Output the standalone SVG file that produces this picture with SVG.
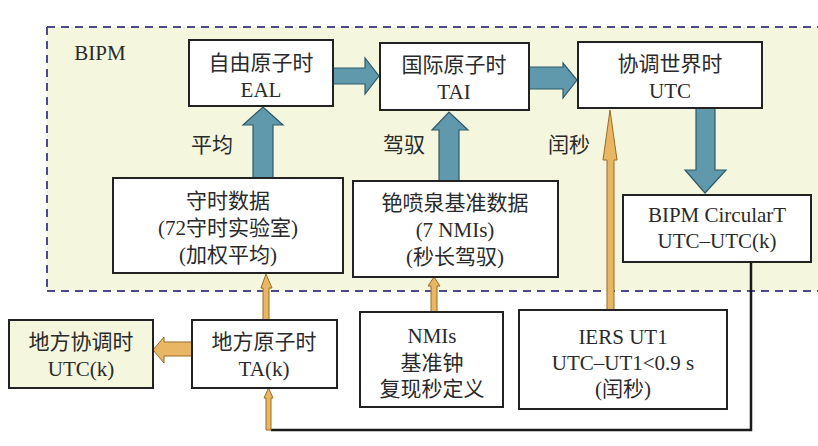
<svg xmlns="http://www.w3.org/2000/svg" width="818" height="446" viewBox="0 0 818 446">
<style>
.box{fill:#ffffff;stroke:#222222;stroke-width:2}
.t{font-family:"Liberation Serif","Noto Sans CJK SC",serif;font-size:21px;fill:#2a2a2a;text-anchor:middle;dominant-baseline:central}
.blue{fill:#5f99ab;stroke:#2e5a68;stroke-width:1.2}
.org{fill:#e9b764;stroke:#9a6a25;stroke-width:1}
.line{fill:none;stroke:#1a1a1a;stroke-width:2.5}
</style>
<rect x="0" y="0" width="818" height="446" fill="#ffffff"/>
<g id="bipm">
<rect x="47" y="27" width="775" height="264" fill="#f4f6de"/>
<path d="M47 27 H818 M47 27 V291 M47 291 H818" fill="none" stroke="#4b4b8c" stroke-width="2" stroke-dasharray="8,6"/>
<text class="t" x="100" y="53">BIPM</text>
</g>
<g id="connectors">
<polygon class="blue" points="333,68 365,68 365,58 379,76 365,94 365,84 333,84"/>
<polygon class="blue" points="529,67 563,67 563,63 577,80 563,98 563,89 529,89"/>
<polygon class="blue" points="253,178 253,125 243,125 263,107 283,125 273,125 273,178"/>
<polygon class="blue" points="439,181 439,130 432,130 449,112 468,130 459,130 459,181"/>
<polygon class="blue" points="696,108 696,170 685,170 705,193 726,170 715,170 715,108"/>
<polygon class="org" points="607,310 607,160 603,160 610,110 617,160 614,160 614,310"/>
<polygon class="org" points="263,320 263,288 261,288 266,274 272,288 269,288 269,320"/>
<polygon class="org" points="431,312 431,286 428,286 434,277 440,286 437,286 437,312"/>
<polyline class="line" points="751,262 751,430 271,430"/>
<polygon class="org" points="266,430 266,398 264,398 268.5,388 273,398 271,398 271,430"/>
<polygon class="org" points="192,342 164,342 164,337 153,350 164,363 164,356 192,356"/>
<text class="t" x="212" y="145">平均</text>
<text class="t" x="404" y="145">驾驭</text>
<text class="t" x="569" y="145">闰秒</text>
</g>
<g id="eal">
<rect class="box" x="189" y="40" width="144" height="66"/>
<text class="t" x="261" y="63">自由原子时</text>
<text class="t" x="261" y="90">EAL</text>
</g>
<g id="tai">
<rect class="box" x="380" y="43" width="149" height="67"/>
<text class="t" x="454" y="65">国际原子时</text>
<text class="t" x="454" y="92">TAI</text>
</g>
<g id="utc">
<rect class="box" x="578" y="42" width="184" height="66"/>
<text class="t" x="670" y="64">协调世界时</text>
<text class="t" x="670" y="91">UTC</text>
</g>
<g id="keeping">
<rect class="box" x="113" y="178" width="230" height="95"/>
<text class="t" x="228" y="201">守时数据</text>
<text class="t" x="228" y="228">(72守时实验室)</text>
<text class="t" x="228" y="255">(加权平均)</text>
</g>
<g id="fountain">
<rect class="box" x="353" y="181" width="205" height="96"/>
<text class="t" x="455" y="203">铯喷泉基准数据</text>
<text class="t" x="455" y="230">(7 NMIs)</text>
<text class="t" x="455" y="257">(秒长驾驭)</text>
</g>
<g id="circulart">
<rect class="box" x="623" y="195" width="188" height="67"/>
<text class="t" x="717" y="215">BIPM CircularT</text>
<text class="t" x="717" y="241">UTC–UTC(k)</text>
</g>
<g id="utck">
<rect x="9" y="320" width="144" height="68" fill="#f4f6de" stroke="#222222" stroke-width="2"/>
<text class="t" x="81" y="342">地方协调时</text>
<text class="t" x="81" y="369">UTC(k)</text>
</g>
<g id="tak">
<rect class="box" x="192" y="320" width="145" height="68"/>
<text class="t" x="264" y="342">地方原子时</text>
<text class="t" x="264" y="369">TA(k)</text>
</g>
<g id="nmis">
<rect class="box" x="360" y="312" width="143" height="95"/>
<text class="t" x="432" y="336">NMIs</text>
<text class="t" x="432" y="363">基准钟</text>
<text class="t" x="432" y="389">复现秒定义</text>
</g>
<g id="iers">
<rect class="box" x="519" y="310" width="208" height="99"/>
<text class="t" x="623" y="337">IERS UT1</text>
<text class="t" x="623" y="363">UTC–UT1&lt;0.9 s</text>
<text class="t" x="623" y="389">(闰秒)</text>
</g>
</svg>
